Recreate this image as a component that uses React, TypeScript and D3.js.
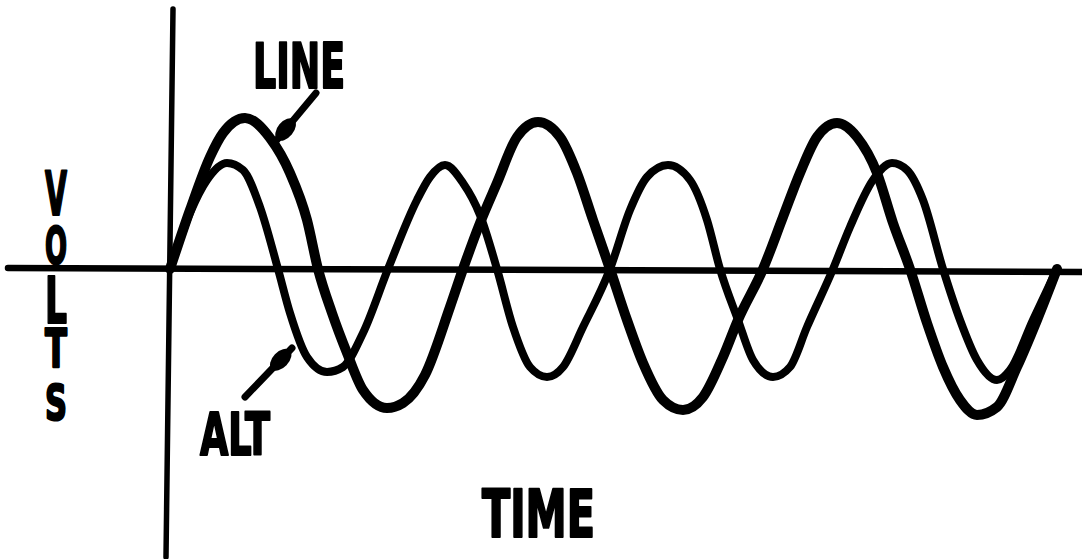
import React from "react";
import * as d3 from "d3";

// time (ms), volts
const lineTime = [0, 20, 40, 53, 75, 100, 120, 137, 148, 162, 177, 193, 217, 233, 255, 280, 293, 310, 327, 347, 368, 390, 407, 423, 440, 457, 473, 493, 513, 533, 553, 568, 593, 613, 630, 647, 667, 687, 707, 723, 740, 757, 773, 790, 807, 827, 847, 867, 887];
const lineVolts = [0, 59, 112, 136, 151, 131, 96, 49, 0, -44, -84, -121, -139, -134, -106, -38, 0, 46, 86, 132, 147, 132, 96, 49, 0, -51, -94, -131, -141, -128, -88, -51, 0, 52, 96, 132, 146, 132, 96, 46, 0, -54, -98, -131, -146, -138, -98, -51, 0];

const altTime = [0, 20, 37, 57, 73, 90, 108, 120, 137, 157, 173, 193, 218, 247, 260, 275, 293, 310, 327, 343, 360, 377, 393, 413, 440, 460, 477, 498, 520, 537, 550, 568, 583, 603, 620, 637, 663, 680, 703, 722, 737, 753, 773, 790, 807, 827, 840, 863, 887];
const altVolts = [0, 56, 89, 106, 99, 62, 0, -44, -88, -103, -98, -64, 0, 69, 92, 104, 86, 54, 0, -58, -98, -108, -98, -58, 0, 59, 92, 104, 89, 49, 0, -51, -91, -108, -98, -58, 0, 42, 89, 106, 99, 69, 0, -51, -91, -111, -101, -51, 0];

const axisLabelX = "TIME";
const axisLabelY = ["V", "O", "L", "T", "S"];
const seriesNames = ["LINE", "ALT"];

const W = 1082;
const H = 559;

export default function App() {
  const x = d3.scaleLinear().domain([0, 887]).range([170, 1057]);
  const y = d3.scaleLinear().domain([-150, 150]).range([419, 119]);

  const gen = d3
    .line<[number, number]>()
    .x((d) => x(d[0]))
    .y((d) => y(d[1]))
    .curve(d3.curveMonotoneX);

  const lineData = lineTime.map((t, i) => [t, lineVolts[i]] as [number, number]);
  const altData = altTime.map((t, i) => [t, altVolts[i]] as [number, number]);

  const font = "'Liberation Sans Narrow', 'DejaVu Sans Condensed', 'Liberation Sans', sans-serif";

  const letterBaselines = [215, 264, 323, 367, 420];
  const letterSizes = [60, 52, 64, 54, 50];

  const arrow = (x1: number, y1: number, x2: number, y2: number) => {
    const ang = (Math.atan2(y2 - y1, x2 - x1) * 180) / Math.PI;
    const cx = x1 + (x2 - x1) * 0.76;
    const cy = y1 + (y2 - y1) * 0.76;
    return (
      <g>
        <line x1={x1} y1={y1} x2={x2} y2={y2} stroke="#000" strokeWidth={7} strokeLinecap="round" />
        <ellipse cx={cx} cy={cy} rx={13} ry={8} fill="#000" transform={`rotate(${ang} ${cx} ${cy})`} />
      </g>
    );
  };

  const textStyle = { stroke: "#000", strokeWidth: 2.2, strokeLinejoin: "round" as const };

  return (
    <svg width={W} height={H} style={{ position: "absolute", left: 0, top: 0, background: "#fff" }}>
      <rect width={W} height={H} fill="#fff" />
      {/* axes */}
      <line x1={173} y1={9} x2={166} y2={557} stroke="#000" strokeWidth={5.5} strokeLinecap="round" />
      <line x1={8} y1={268} x2={1082} y2={272} stroke="#000" strokeWidth={6.5} strokeLinecap="round" />
      {/* waves */}
      <path d={gen(altData) || ""} fill="none" stroke="#000" strokeWidth={8} strokeLinecap="round" strokeLinejoin="round" />
      <path d={gen(lineData) || ""} fill="none" stroke="#000" strokeWidth={10} strokeLinecap="round" strokeLinejoin="round" />
      {/* arrows */}
      {arrow(316, 93, 276, 141)}
      {arrow(245, 397, 292, 348)}
      {/* labels */}
      <text x={253} y={88} fontFamily={font} fontWeight="bold" fontSize={63} textLength={92} lengthAdjust="spacingAndGlyphs" style={textStyle}>
        {seriesNames[0]}
      </text>
      <text x={200} y={455} fontFamily={font} fontWeight="bold" fontSize={58} textLength={70} lengthAdjust="spacingAndGlyphs" style={textStyle}>
        {seriesNames[1]}
      </text>
      <text x={482} y={537} fontFamily={font} fontWeight="bold" fontSize={65} textLength={113} lengthAdjust="spacingAndGlyphs" style={textStyle}>
        {axisLabelX}
      </text>
      {axisLabelY.map((c, i) => (
        <text
          key={i}
          x={45}
          y={letterBaselines[i]}
          fontFamily={font}
          fontWeight="bold"
          fontSize={letterSizes[i]}
          textLength={22}
          lengthAdjust="spacingAndGlyphs"
          style={textStyle}
        >
          {c}
        </text>
      ))}
    </svg>
  );
}
